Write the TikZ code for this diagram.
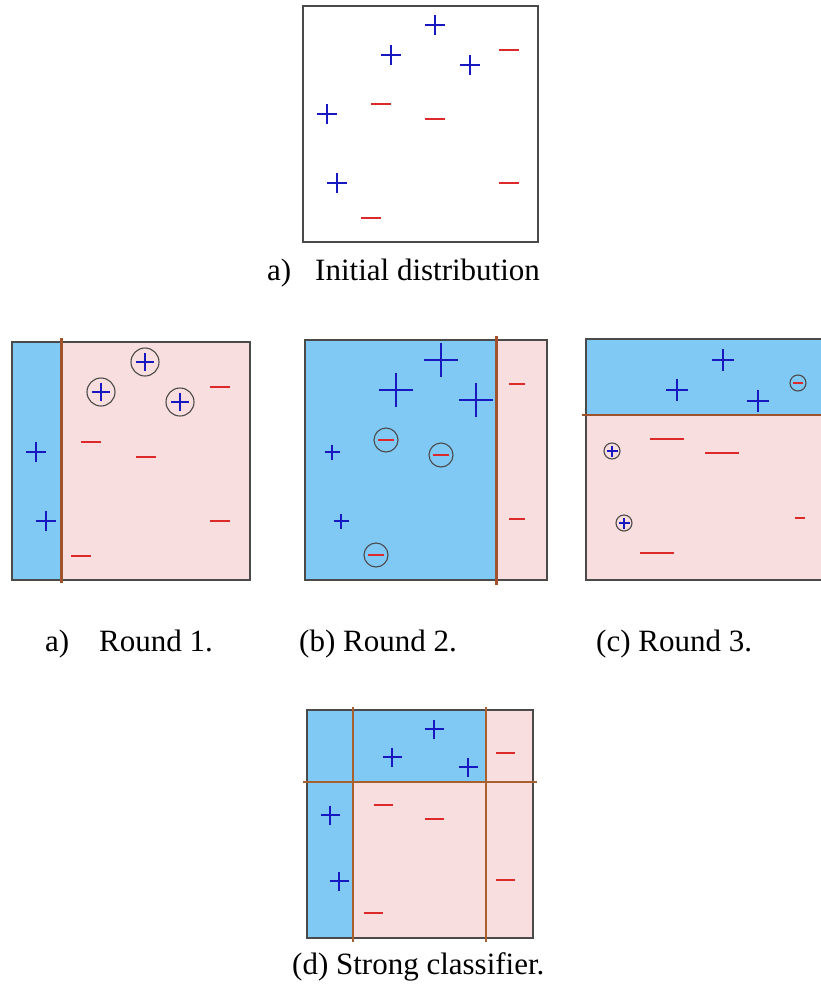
\documentclass[tikz,border=0pt]{standalone}
\usepackage{fontspec}
\setmainfont{Liberation Serif}
\definecolor{posblue}{HTML}{1818C0}
\definecolor{negred}{HTML}{DC2A2A}
\definecolor{regblue}{HTML}{80C9F4}
\definecolor{regpink}{HTML}{F8DEDE}
\definecolor{splitbrown}{HTML}{A0522D}
\definecolor{thinbrown}{HTML}{A8602E}
\definecolor{frame}{HTML}{4A4A4A}
\tikzset{
  plusline/.style={posblue, line width=2.2pt},
  minusline/.style={negred, line width=2.2pt},
  ringline/.style={frame, line width=1.1pt},
  panelframe/.style={frame, line width=1.1pt},
  splitline/.style={splitbrown, line width=3pt},
  thinsplit/.style={thinbrown, line width=1.3pt},
  caption/.style={anchor=base west, inner sep=0pt, font=\fontsize{31}{36}\selectfont}
}
% plus sign at (x,y) with half-arm length r
\newcommand\posmark[3]{\draw[plusline] (#1-#3,#2) -- (#1+#3,#2) (#1,#2-#3) -- (#1,#2+#3);}
% minus sign at (x,y) with half-length r
\newcommand\negmark[3]{\draw[minusline] (#1-#3,#2) -- (#1+#3,#2);}
% ring of radius r around (x,y)
\newcommand\ringmark[3]{\draw[ringline] (#1,#2) circle[radius=#3];}
\begin{document}
\begin{tikzpicture}[x=1pt,y=-1pt]
\useasboundingbox (0,0) rectangle (821,985);

% ---------- initial distribution ----------
\draw[panelframe] (303,6) rectangle (538,242);
\posmark{435}{25}{10}
\posmark{391}{55}{10}
\posmark{470}{65}{10}
\negmark{509}{50}{10}
\posmark{327}{114}{10}
\negmark{381}{104}{10}
\negmark{435}{119}{10}
\posmark{337}{183}{10}
\negmark{509}{183}{10}
\negmark{371}{218}{10}
\node[caption] (capA) at (267,280) {a)};
\node[caption] (capAtxt) at (315,280) {Initial distribution};

% ---------- round 1 ----------
\fill[regblue] (12,342) rectangle (61,580);
\fill[regpink] (61,342) rectangle (250,580);
\draw[panelframe] (12,342) rectangle (250,580);
\draw[splitline] (61,338) -- (61,583);
\ringmark{145}{362}{14}\posmark{145}{362}{9}
\ringmark{101}{392}{14}\posmark{101}{392}{9}
\ringmark{180}{402}{14}\posmark{180}{402}{9}
\negmark{220}{387}{10}
\negmark{91}{442}{10}
\negmark{146}{457}{10}
\posmark{36}{452}{10}
\posmark{46}{521}{10}
\negmark{220}{521}{10}
\negmark{81}{556}{10}
\node[caption] (capR1) at (45,651) {a)};
\node[caption] (capR1txt) at (99,651) {Round 1.};

% ---------- round 2 ----------
\fill[regblue] (305,340) rectangle (496,580);
\fill[regpink] (496,340) rectangle (547,580);
\draw[panelframe] (305,340) rectangle (547,580);
\draw[splitline] (496,336) -- (496,585);
\posmark{441}{360}{17}
\posmark{396}{390}{17}
\posmark{476}{400}{17}
\negmark{517}{384}{8}
\ringmark{386}{440}{12}\negmark{386}{440}{8}
\ringmark{441}{455}{12}\negmark{441}{455}{8}
\posmark{332}{452}{7.5}
\posmark{341}{521}{7.5}
\negmark{517}{519}{8}
\ringmark{376}{555}{12}\negmark{376}{555}{8}
\node[caption] (capR2) at (299,651) {(b) Round 2.};

% ---------- round 3 ----------
\fill[regblue] (586,339) rectangle (821,415);
\fill[regpink] (586,415) rectangle (821,580);
\draw[panelframe] (824,339) -- (586,339) -- (586,580) -- (824,580);
\draw[splitbrown, line width=2.5pt] (582,415) -- (821,415);
\posmark{723}{360}{11}
\posmark{677}{390}{11}
\posmark{758}{401}{11}
\ringmark{798}{383}{8}\negmark{798}{383}{5}
\negmark{667}{439}{17}
\negmark{722}{453}{17}
\ringmark{612}{451}{8}\posmark{612}{451}{5.5}
\ringmark{624}{523}{8}\posmark{624}{523}{5.5}
\negmark{800}{518}{5}
\negmark{657}{553}{17}
\node[caption] (capR3) at (596,651) {(c) Round 3.};

% ---------- strong classifier ----------
\fill[regpink] (307,710) rectangle (533,938);
\fill[regblue] (307,710) rectangle (353,938);
\fill[regblue] (353,710) rectangle (486,782);
\draw[panelframe] (307,710) rectangle (533,938);
\draw[thinsplit] (353,707) -- (353,942);
\draw[thinsplit] (486,707) -- (486,942);
\draw[thinsplit] (303,782) -- (537,782);
\posmark{434}{729}{9.5}
\posmark{392}{757}{9.5}
\posmark{468}{767}{9.5}
\negmark{505}{753}{9.5}
\posmark{330}{815}{9.5}
\negmark{383}{805}{9.5}
\negmark{434}{819}{9.5}
\posmark{339}{881}{9.5}
\negmark{505}{880}{9.5}
\negmark{373}{913}{9.5}
\node[caption] (capD) at (292,974) {(d) Strong classifier.};
\end{tikzpicture}
\end{document}
